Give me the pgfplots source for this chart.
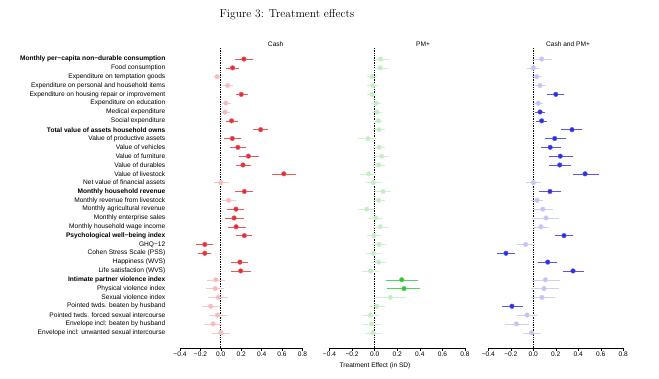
\documentclass[border=0pt]{standalone}
\usepackage{fontspec}
\usepackage{pgfplots}
\pgfplotsset{compat=1.18}
\newfontfamily\hv{Liberation Sans}
\definecolor{redD}{RGB}{228,45,55}
\definecolor{redL}{RGB}{246,185,188}
\definecolor{greenD}{RGB}{45,200,45}
\definecolor{greenL}{RGB}{195,238,195}
\definecolor{blueD}{RGB}{45,45,230}
\definecolor{blueL}{RGB}{195,195,245}
\newcommand{\sz}{\hv\fontsize{6.6}{7}\selectfont}
\pgfplotsset{
  panel/.style={scale only axis, height=300pt, ymin=-1.73, ymax=32.25,
    xmin=-0.4, xmax=0.8, axis x line*=bottom, axis y line*=left,
    y axis line style={draw=none}, ytick=\empty,
    xtick={-0.4,-0.2,0,0.2,0.4,0.6,0.8},
    xticklabels={−0.4,−0.2,0.0,0.2,0.4,0.6,0.8},
    tick align=outside, major tick length=3pt,
    x axis line style={line width=0.5pt,-},
    xtick style={line width=0.5pt,black},
    xticklabel style={font=\sz, inner sep=1pt},
    clip=false, anchor=south west},
  pt/.style={only marks, color=#1, mark=*, mark size=2.3pt,
    mark options={fill=#1, draw=#1!75!white, line width=0.5pt},
    error bars/.cd, x dir=both, x explicit,
    error bar style={line width=0.45pt, color=#1!80!white},
    error mark options={mark size=1.6pt, line width=0.45pt, color=#1!80!white}},
  zero/.style={black, densely dotted, line width=0.7pt, forget plot}
}
\begin{document}
\begin{tikzpicture}
\path[use as bounding box] (0,0) rectangle (659pt,378pt);
% Panel 1: Cash
\begin{axis}[panel, at={(180pt,30pt)}, width=122.5pt,
  ytick={0,1,...,31},
  yticklabels={
  Envelope incl: unwanted sexual intercourse,
  Envelope incl: beaten by husband,
  Pointed twds. forced sexual intercourse,
  Pointed twds. beaten by husband,
  Sexual violence index,
  Physical violence index,
  \textbf{Intimate partner violence index},
  Life satisfaction (WVS),
  Happiness (WVS),
  Cohen Stress Scale (PSS),
  GHQ−12,
  \textbf{Psychological well−being index},
  Monthly household wage income,
  Monthly enterprise sales,
  Monthly agricultural revenue,
  Monthly revenue from livestock,
  \textbf{Monthly household revenue},
  Net value of financial assets,
  Value of livestock,
  Value of durables,
  Value of furniture,
  Value of vehicles,
  Value of productive assets,
  \textbf{Total value of assets household owns},
  Social expenditure,
  Medical expenditure,
  Expenditure on education,
  Expenditure on housing repair or improvement,
  Expenditure on personal and household items,
  Expenditure on temptation goods,
  Food consumption,
  \textbf{Monthly per−capita non−durable consumption}},
  ytick style={draw=none},
  yticklabel style={font=\sz, xshift=-10.5pt, inner sep=1pt}]
\addplot[zero] coordinates {(0,-1.73) (0,32.25)};
\addplot[pt=redL] coordinates {
 (-0.036,29) -= (0.024,0) += (0.026,0)
 (0.066,28) -= (0.026,0) += (0.034,0)
 (0.05,26) -= (0.025,0) += (0.03,0)
 (0.04,25) -= (0.023,0) += (0.03,0)
 (0.0,17) -= (0.05,0) += (0.063,0)
 (0.076,15) -= (0.051,0) += (0.054,0)
 (-0.049,6) -= (0.071,0) += (0.079,0)
 (-0.055,5) -= (0.075,0) += (0.075,0)
 (-0.026,4) -= (0.084,0) += (0.076,0)
 (-0.10,3) -= (0.07,0) += (0.075,0)
 (-0.033,2) -= (0.067,0) += (0.073,0)
 (-0.075,1) -= (0.075,0) += (0.075,0)
 (0.0,0) -= (0.075,0) += (0.07,0)
};
\addplot[pt=redD] coordinates {
 (0.226,31) -= (0.076,0) += (0.074,0)
 (0.115,30) -= (0.045,0) += (0.05,0)
 (0.20,27) -= (0.04,0) += (0.05,0)
 (0.105,24) -= (0.035,0) += (0.045,0)
 (0.39,23) -= (0.055,0) += (0.06,0)
 (0.112,22) -= (0.062,0) += (0.068,0)
 (0.167,21) -= (0.062,0) += (0.059,0)
 (0.27,20) -= (0.08,0) += (0.09,0)
 (0.217,19) -= (0.057,0) += (0.063,0)
 (0.617,18) -= (0.097,0) += (0.103,0)
 (0.23,16) -= (0.075,0) += (0.07,0)
 (0.148,14) -= (0.068,0) += (0.068,0)
 (0.13,13) -= (0.074,0) += (0.08,0)
 (0.15,12) -= (0.067,0) += (0.076,0)
 (0.23,11) -= (0.07,0) += (0.06,0)
 (-0.157,10) -= (0.069,0) += (0.063,0)
 (-0.157,9) -= (0.053,0) += (0.047,0)
 (0.187,8) -= (0.067,0) += (0.063,0)
 (0.194,7) -= (0.079,0) += (0.086,0)
};
\end{axis}
% Panel 2: PM+
\begin{axis}[panel, at={(329.5pt,30pt)}, width=135.5pt]
\addplot[zero] coordinates {(0,-1.73) (0,32.25)};
\addplot[pt=greenL] coordinates {
 (0.053,31) -= (0.05,0) += (0.07,0)
 (0.05,30) -= (0.04,0) += (0.05,0)
 (-0.024,29) -= (0.03,0) += (0.03,0)
 (-0.015,28) -= (0.04,0) += (0.04,0)
 (-0.024,27) -= (0.03,0) += (0.03,0)
 (0.015,26) -= (0.03,0) += (0.03,0)
 (0.02,25) -= (0.03,0) += (0.03,0)
 (0.033,24) -= (0.03,0) += (0.03,0)
 (0.038,23) -= (0.04,0) += (0.04,0)
 (-0.06,22) -= (0.07,0) += (0.06,0)
 (0.04,21) -= (0.04,0) += (0.04,0)
 (0.062,20) -= (0.05,0) += (0.05,0)
 (0.035,19) -= (0.04,0) += (0.04,0)
 (-0.053,18) -= (0.06,0) += (0.05,0)
 (-0.013,17) -= (0.05,0) += (0.06,0)
 (0.074,16) -= (0.06,0) += (0.06,0)
 (0.035,15) -= (0.04,0) += (0.04,0)
 (-0.07,14) -= (0.06,0) += (0.06,0)
 (0.009,13) -= (0.05,0) += (0.05,0)
 (0.05,12) -= (0.05,0) += (0.05,0)
 (-0.006,11) -= (0.05,0) += (0.05,0)
 (0.038,10) -= (0.05,0) += (0.05,0)
 (-0.012,9) -= (0.05,0) += (0.05,0)
 (0.035,8) -= (0.05,0) += (0.05,0)
 (-0.035,7) -= (0.06,0) += (0.06,0)
 (0.139,4) -= (0.12,0) += (0.12,0)
 (0.02,3) -= (0.06,0) += (0.06,0)
 (-0.038,2) -= (0.06,0) += (0.06,0)
 (-0.027,1) -= (0.07,0) += (0.07,0)
 (-0.015,0) -= (0.06,0) += (0.06,0)
};
\addplot[pt=greenD] coordinates {
 (0.24,6) -= (0.125,0) += (0.13,0)
 (0.26,5) -= (0.133,0) += (0.13,0)
};
\end{axis}
% Panel 3: Cash and PM+
\begin{axis}[panel, at={(488.3pt,30pt)}, width=135pt]
\addplot[zero] coordinates {(0,-1.73) (0,32.25)};
\addplot[pt=blueL] coordinates {
 (0.074,31) -= (0.064,0) += (0.076,0)
 (0.0,30) -= (0.04,0) += (0.04,0)
 (0.03,29) -= (0.03,0) += (0.03,0)
 (0.06,28) -= (0.03,0) += (0.035,0)
 (0.045,26) -= (0.03,0) += (0.03,0)
 (0.0,17) -= (0.05,0) += (0.05,0)
 (0.033,15) -= (0.04,0) += (0.04,0)
 (0.084,14) -= (0.064,0) += (0.076,0)
 (0.113,13) -= (0.11,0) += (0.1,0)
 (0.068,12) -= (0.06,0) += (0.06,0)
 (-0.068,10) -= (0.062,0) += (0.068,0)
 (0.107,6) -= (0.107,0) += (0.12,0)
 (0.095,5) -= (0.105,0) += (0.115,0)
 (0.077,4) -= (0.087,0) += (0.1,0)
 (-0.056,2) -= (0.074,0) += (0.076,0)
 (-0.15,1) -= (0.09,0) += (0.1,0)
 (-0.015,0) -= (0.065,0) += (0.065,0)
};
\addplot[pt=blueD] coordinates {
 (0.2,27) -= (0.06,0) += (0.055,0)
 (0.06,25) -= (0.03,0) += (0.026,0)
 (0.074,24) -= (0.034,0) += (0.036,0)
 (0.344,23) -= (0.084,0) += (0.076,0)
 (0.19,22) -= (0.074,0) += (0.083,0)
 (0.15,21) -= (0.07,0) += (0.08,0)
 (0.24,20) -= (0.09,0) += (0.10,0)
 (0.235,19) -= (0.078,0) += (0.082,0)
 (0.46,18) -= (0.095,0) += (0.11,0)
 (0.148,16) -= (0.08,0) += (0.082,0)
 (0.273,11) -= (0.063,0) += (0.067,0)
 (-0.243,9) -= (0.067,0) += (0.063,0)
 (0.128,8) -= (0.068,0) += (0.072,0)
 (0.353,7) -= (0.078,0) += (0.082,0)
 (-0.19,3) -= (0.07,0) += (0.08,0)
};
\end{axis}
\node[font=\sz] at (275.7pt,334pt) {Cash};
\node[font=\sz] at (423pt,334pt) {PM+};
\node[font=\sz] at (568pt,334pt) {Cash and PM+};
\node[font=\sz] at (375pt,12pt) {Treatment Effect (in SD)};
\node[font=\fontsize{11.5}{13}\selectfont] at (287pt,363pt) {Figure 3: Treatment effects};
\end{tikzpicture}
\end{document}
